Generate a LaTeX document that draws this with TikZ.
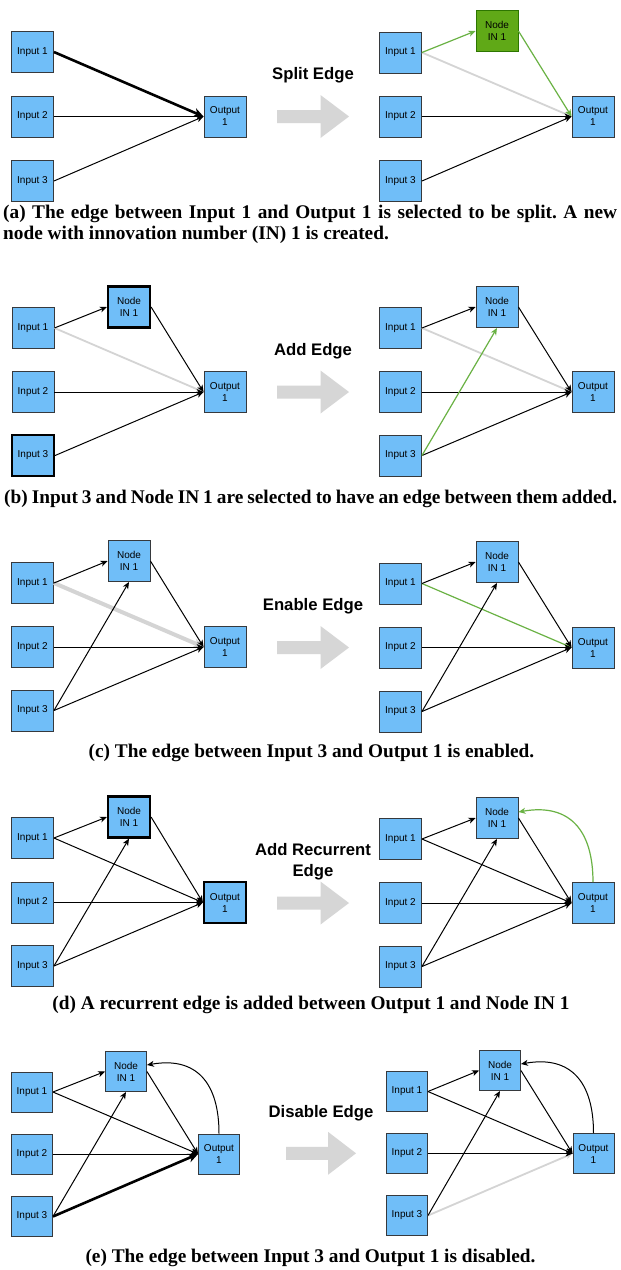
\documentclass[tikz,border=0pt]{standalone}
\usepackage{fontspec}
\usetikzlibrary{arrows.meta}
\newfontfamily\nodefamily{Liberation Sans}
\newfontfamily\capfamily{Liberation Serif}
\definecolor{nodeblue}{RGB}{112,190,248}
\definecolor{nodebord}{RGB}{54,57,61}
\definecolor{nodegreen}{RGB}{96,169,23}
\definecolor{greenbord}{RGB}{45,118,0}
\definecolor{edgegreen}{RGB}{106,178,68}
\definecolor{disgray}{RGB}{212,212,212}
\definecolor{arrgray}{RGB}{214,214,214}
\newcommand\bigarr[4]{%
  \fill[arrgray] (#1,#2-6.5) -- (#1+#3-#4,#2-6.5) -- (#1+#3-#4,#2-21.5) -- (#1+#3,#2)
    -- (#1+#3-#4,#2+21.5) -- (#1+#3-#4,#2+6.5) -- (#1,#2+6.5) -- cycle;}
\frenchspacing
\begin{document}
\begin{tikzpicture}[x=1pt,y=-1pt,
  box/.style={draw=nodebord, fill=nodeblue, line width=0.9pt, minimum width=42pt, minimum height=41pt,
    inner sep=0pt, align=center, font=\nodefamily\fontsize{10}{12}\selectfont},
  sbox/.style={box, minimum width=41pt, minimum height=40pt},
  sel/.style={draw=black, line width=2.2pt},
  grn/.style={fill=nodegreen, draw=greenbord},
  edge/.style={line width=1pt, -{Stealth[length=7pt,width=6pt,inset=2pt]}},
  thk/.style={line width=2.6pt, -{Stealth[length=10pt,width=9pt,inset=3pt]}},
  gedge/.style={edge, draw=edgegreen, line width=1.2pt, -{Stealth[length=7pt,width=6pt,inset=2pt,fill=edgegreen]}},
  dis/.style={edge, draw=disgray, line width=1.8pt, -{Stealth[length=7pt,width=6pt,inset=2pt,fill=disgray]}},
  disthk/.style={draw=disgray, line width=4pt, -{Stealth[length=10pt,width=9pt,inset=3pt,fill=disgray]}},
  lbl/.style={anchor=base, inner sep=0pt, font=\nodefamily\bfseries\fontsize{16.7}{20}\selectfont},
  captxt/.style={anchor=base, inner sep=0pt, font=\capfamily\bfseries\fontsize{19.3}{22}\selectfont},
]
\useasboundingbox[fill=white] (0,0) rectangle (621,1270);

% ---------------- (a) ----------------
\node[box] (aI1) at (32.5,52) {Input 1};
\node[box] (aI2) at (32.5,116.5) {Input 2};
\node[box] (aI3) at (32.5,181) {Input 3};
\node[box] (aO) at (225,116.5) {Output\\1};
\draw[thk] (aI1.east) -- (aO.west);
\draw[edge] (aI2.east) -- (aO.west);
\draw[edge] (aI3.east) -- (aO.west);
\node[lbl] (alab) at (313,79.3) {Split Edge};
\bigarr{277}{116.5}{72}{28.5}
\node[box] (AI1) at (400.5,52.5) {Input 1};
\node[box] (AI2) at (400.5,116.5) {Input 2};
\node[box] (AI3) at (400.5,181) {Input 3};
\node[box,grn] (AN) at (497,31) {Node\\IN 1};
\node[box] (AO) at (593,116.5) {Output\\1};
\draw[dis] (AI1.east) -- (AO.west);
\draw[gedge] (AI1.east) -- (AN.west);
\draw[gedge] (AN.east) -- (AO.west);
\draw[edge] (AI2.east) -- (AO.west);
\draw[edge] (AI3.east) -- (AO.west);
\node[captxt, anchor=base west] (capa1) at (3,218.6) {\makebox[614pt][s]{(a) The edge between Input 1 and Output 1 is selected to be split. A new}};
\node[captxt, anchor=base west] (capa2) at (3,239.6) {node with innovation number (IN) 1 is created.};

% ---------------- (b) ----------------
\node[box] (bI1) at (33,328) {Input 1};
\node[box] (bI2) at (33,392) {Input 2};
\node[box,sel] (bI3) at (33,455.5) {Input 3};
\node[box,sel] (bN) at (129,307) {Node\\IN 1};
\node[box] (bO) at (225,392) {Output\\1};
\draw[dis] (bI1.east) -- (bO.west);
\draw[edge] (bI1.east) -- (bN.west);
\draw[edge] (bN.east) -- (bO.west);
\draw[edge] (bI2.east) -- (bO.west);
\draw[edge] (bI3.east) -- (bO.west);
\node[lbl] (blab) at (313,355) {Add Edge};
\bigarr{277}{392}{72}{28.5}
\node[box] (BI1) at (400.5,328) {Input 1};
\node[box] (BI2) at (400.5,392) {Input 2};
\node[box] (BI3) at (400.5,455.5) {Input 3};
\node[box] (BN) at (497,307) {Node\\IN 1};
\node[box] (BO) at (593,392) {Output\\1};
\draw[dis] (BI1.east) -- (BO.west);
\draw[edge] (BI1.east) -- (BN.west);
\draw[edge] (BN.east) -- (BO.west);
\draw[edge] (BI2.east) -- (BO.west);
\draw[edge] (BI3.east) -- (BO.west);
\draw[gedge] (BI3.east) -- (BN.south);
\node[captxt, anchor=base west] (capb) at (4,503) {\makebox[613pt][s]{(b) Input 3 and Node IN 1 are selected to have an edge between them added.}};

% ---------------- (c) ----------------
\node[box] (cI1) at (32.5,583) {Input 1};
\node[box] (cI2) at (32.5,647) {Input 2};
\node[box] (cI3) at (32.5,710.5) {Input 3};
\node[box] (cN) at (129,561) {Node\\IN 1};
\node[box] (cO) at (225,647) {Output\\1};
\draw[disthk] (cI1.east) -- (cO.west);
\draw[edge] (cI1.east) -- (cN.west);
\draw[edge] (cN.east) -- (cO.west);
\draw[edge] (cI2.east) -- (cO.west);
\draw[edge] (cI3.east) -- (cO.west);
\draw[edge] (cI3.east) -- (cN.south);
\node[lbl] (clab) at (313,610) {Enable Edge};
\bigarr{277}{647.5}{72}{28.5}
\node[box] (CI1) at (400.5,583.5) {Input 1};
\node[box] (CI2) at (400.5,647.5) {Input 2};
\node[box] (CI3) at (400.5,711.5) {Input 3};
\node[box] (CN) at (497,562) {Node\\IN 1};
\node[box] (CO) at (593,647.5) {Output\\1};
\draw[gedge] (CI1.east) -- (CO.west);
\draw[edge] (CI1.east) -- (CN.west);
\draw[edge] (CN.east) -- (CO.west);
\draw[edge] (CI2.east) -- (CO.west);
\draw[edge] (CI3.east) -- (CO.west);
\draw[edge] (CI3.east) -- (CN.south);
\node[captxt] (capc) at (311.5,757) {(c) The edge between Input 3 and Output 1 is enabled.};

% ---------------- (d) ----------------
\node[box] (dI1) at (32.5,838) {Input 1};
\node[box] (dI2) at (32.5,902.5) {Input 2};
\node[box] (dI3) at (32.5,966) {Input 3};
\node[box,sel] (dN) at (129,817) {Node\\IN 1};
\node[box,sel] (dO) at (225,902.5) {Output\\1};
\draw[edge] (dI1.east) -- (dO.west);
\draw[edge] (dI1.east) -- (dN.west);
\draw[edge] (dN.east) -- (dO.west);
\draw[edge] (dI2.east) -- (dO.west);
\draw[edge] (dI3.east) -- (dO.west);
\draw[edge] (dI3.east) -- (dN.south);
\node[lbl] (dlab1) at (313,855.7) {Add Recurrent};
\node[lbl] (dlab2) at (313,876) {Edge};
\bigarr{277}{903}{72}{28.5}
\node[box] (DI1) at (400.5,839) {Input 1};
\node[box] (DI2) at (400.5,903) {Input 2};
\node[box] (DI3) at (400.5,966.5) {Input 3};
\node[box] (DN) at (497,818) {Node\\IN 1};
\node[box] (DO) at (593,903) {Output\\1};
\draw[edge] (DI1.east) -- (DO.west);
\draw[edge] (DI1.east) -- (DN.west);
\draw[edge] (DN.east) -- (DO.west);
\draw[edge] (DI2.east) -- (DO.west);
\draw[edge] (DI3.east) -- (DO.west);
\draw[edge] (DI3.east) -- (DN.south);
\draw[gedge] (DO.north) to[out=90,in=10,looseness=1.3] ([yshift=6pt]DN.east);
\node[captxt] (capd) at (311,1009.6) {(d) A recurrent edge is added between Output 1 and Node IN 1};

% ---------------- (e) ----------------
\node[sbox] (eI1) at (32,1092) {Input 1};
\node[sbox] (eI2) at (32,1154) {Input 2};
\node[sbox] (eI3) at (32,1216.5) {Input 3};
\node[sbox] (eN) at (126,1071.5) {Node\\IN 1};
\node[sbox] (eO) at (219,1154) {Output\\1};
\draw[edge] (eI1.east) -- (eO.west);
\draw[edge] (eI1.east) -- (eN.west);
\draw[edge] (eN.east) -- (eO.west);
\draw[edge] (eI2.east) -- (eO.west);
\draw[thk] (eI3.east) -- (eO.west);
\draw[edge] (eI3.east) -- (eN.south);
\draw[edge] (eO.north) to[out=90,in=10,looseness=1.3] ([yshift=6.5pt]eN.east);
\node[lbl] (elab) at (321,1117.3) {Disable Edge};
\bigarr{286}{1153.3}{70}{28}
\node[sbox] (EI1) at (407,1091.5) {Input 1};
\node[sbox] (EI2) at (407,1153.5) {Input 2};
\node[sbox] (EI3) at (407,1215.5) {Input 3};
\node[sbox] (EN) at (500,1070.5) {Node\\IN 1};
\node[sbox] (EO) at (593.5,1153.5) {Output\\1};
\draw[dis] (EI3.east) -- (EO.west);
\draw[edge] (EI1.east) -- (EO.west);
\draw[edge] (EI1.east) -- (EN.west);
\draw[edge] (EN.east) -- (EO.west);
\draw[edge] (EI2.east) -- (EO.west);
\draw[edge] (EI3.east) -- (EN.south);
\draw[edge] (EO.north) to[out=90,in=10,looseness=1.3] ([yshift=6.5pt]EN.east);
\node[captxt] (cape) at (310.5,1262.7) {(e) The edge between Input 3 and Output 1 is disabled.};
\end{tikzpicture}
\end{document}
